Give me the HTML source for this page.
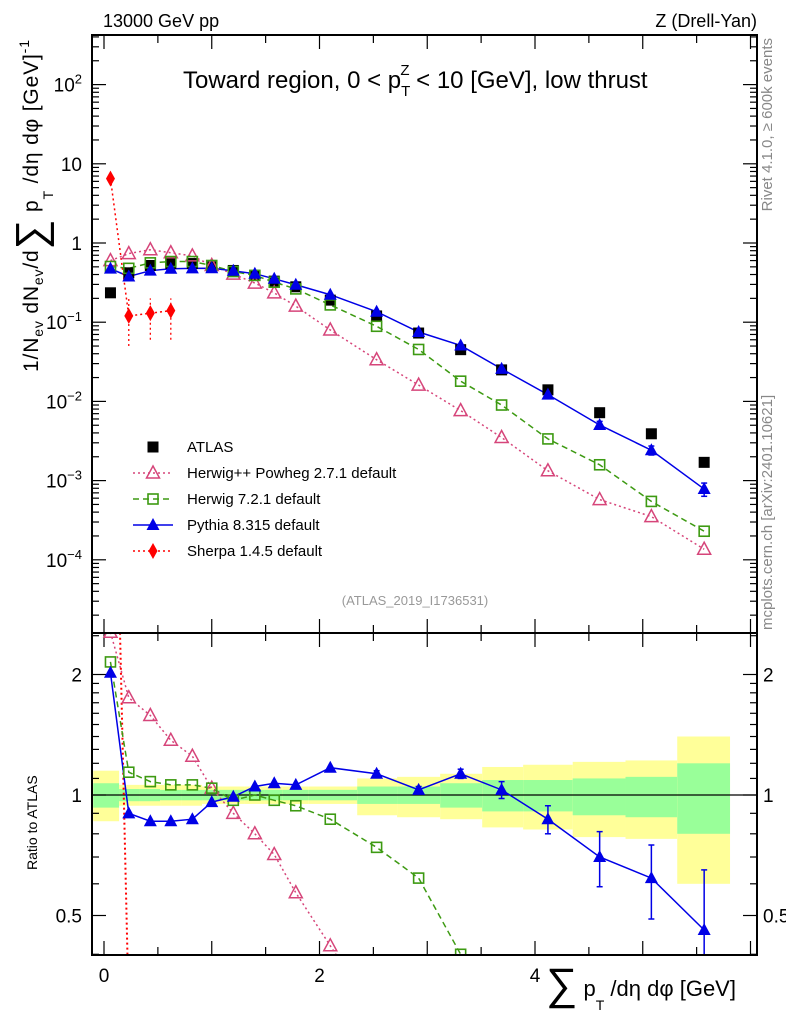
<!DOCTYPE html>
<html><head><meta charset="utf-8"><style>
html,body{margin:0;padding:0;background:#fff;overflow:hidden;}
svg{display:block;font-family:"Liberation Sans",sans-serif;}
</style></head><body>
<svg id="chart" width="786" height="1024" viewBox="0 0 786 1024" xmlns="http://www.w3.org/2000/svg">
<defs>
<clipPath id="clipMain"><rect x="92" y="35" width="665" height="598"/></clipPath>
<clipPath id="clipRatio"><rect x="92" y="634" width="665" height="321"/></clipPath>
</defs>
<g id="bands" clip-path="url(#clipRatio)"></g>
<g id="ticks"></g>
<g id="series-main" clip-path="url(#clipMain)"></g>
<g id="series-ratio" clip-path="url(#clipRatio)"></g>
<rect x="92" y="35" width="665" height="598" fill="none" stroke="#000" stroke-width="2"/>
<rect x="92" y="633" width="665" height="322" fill="none" stroke="#000" stroke-width="2"/>
<text x="103" y="27" font-size="18">13000 GeV pp</text>
<text x="757" y="27" font-size="18" text-anchor="end">Z (Drell-Yan)</text>
<text x="183" y="88" font-size="24">Toward region, 0 &lt; p<tspan font-size="15" dy="8">T</tspan><tspan font-size="15" dx="-10" dy="-21">Z</tspan><tspan dy="13"> &lt; 10 [GeV], low thrust</tspan></text>
<text transform="translate(772,38) rotate(-90)" font-size="15" fill="#888" text-anchor="end">Rivet 4.1.0, ≥ 600k events</text>
<text transform="translate(772,630) rotate(-90)" font-size="15" fill="#888">mcplots.cern.ch [arXiv:2401.10621]</text>
<text x="415" y="605" font-size="13" fill="#999" text-anchor="middle">(ATLAS_2019_I1736531)</text>
<text transform="translate(38,372) rotate(-90)" font-size="21" textLength="332" lengthAdjust="spacing">1/N<tspan font-size="14" dy="5">ev</tspan><tspan dy="-5"> dN</tspan><tspan font-size="14" dy="5">ev</tspan><tspan dy="-5">/d</tspan><tspan font-size="42" dy="7">∑</tspan><tspan dy="-7"> p</tspan><tspan font-size="14" dy="15">T</tspan><tspan dy="-15"> /dη dφ  [GeV]</tspan><tspan font-size="14" dy="-9">-1</tspan></text>
<text transform="translate(37,870) rotate(-90)" font-size="14">Ratio to ATLAS</text>
<text x="546" y="996" font-size="22"><tspan font-size="44" dy="3">∑</tspan><tspan dy="-3"> p</tspan><tspan font-size="14" dy="14">T</tspan><tspan dy="-14"> /dη dφ [GeV]</tspan></text>
<g id="legend"></g>
<g id="labels"></g>
</svg>
<script>
const xCenters=[0.06,0.23,0.43,0.62,0.82,1.0,1.2,1.4,1.58,1.78,2.1,2.53,2.92,3.31,3.69,4.12,4.6,5.08,5.57];
const binEdges=[-0.1,0.14,0.33,0.52,0.72,0.91,1.1,1.3,1.49,1.66,1.9,2.35,2.72,3.12,3.51,3.89,4.35,4.84,5.32,5.81];
const atlas=[0.235,0.42,0.52,0.55,0.55,0.5,0.45,0.39,0.33,0.28,0.19,0.12,0.073,0.045,0.025,0.014,0.0072,0.0039,0.0017];
const totHi=[1.15,1.06,1.06,1.06,1.06,1.05,1.05,1.05,1.05,1.05,1.05,1.10,1.11,1.13,1.175,1.19,1.21,1.22,1.40];
const totLo=[0.86,0.94,0.94,0.94,0.94,0.95,0.95,0.95,0.95,0.95,0.95,0.89,0.88,0.87,0.83,0.82,0.785,0.777,0.60];
const statHi=[1.07,1.035,1.035,1.03,1.03,1.03,1.03,1.03,1.03,1.03,1.03,1.05,1.05,1.07,1.09,1.09,1.10,1.11,1.20];
const statLo=[0.93,0.965,0.965,0.97,0.97,0.97,0.97,0.97,0.97,0.97,0.97,0.95,0.95,0.93,0.91,0.91,0.89,0.88,0.80];
const ratioHpp=[2.55,1.75,1.58,1.37,1.25,1.04,0.90,0.80,0.71,0.57,0.42,0.28,0.22,0.17,0.14,0.095,0.08,0.09,0.08];
const ratioH7=[2.15,1.14,1.08,1.06,1.06,1.04,0.97,1.0,0.97,0.94,0.87,0.74,0.62,0.40,0.36,0.24,0.22,0.14,0.135];
const ratioPy=[2.02,0.90,0.86,0.86,0.87,0.96,0.99,1.05,1.07,1.06,1.17,1.13,1.03,1.13,1.03,0.87,0.70,0.62,0.46];
const errPy=[0.01,0.01,0.01,0.01,0.01,0.01,0.01,0.01,0.01,0.01,0.01,0.02,0.02,0.03,0.05,0.07,0.11,0.13,0.19];
const sherpaX=[0.06,0.23,0.43,0.62];
const sherpaVal=[6.5,0.12,0.13,0.14];
const sherpaErrLo=[0.5,0.07,0.07,0.08];
const sherpaErrHi=[0.5,0.08,0.07,0.06];
const legendLabels=["ATLAS","Herwig++ Powheg 2.7.1 default","Herwig 7.2.1 default","Pythia 8.315 default","Sherpa 1.4.5 default"];

const NS="http://www.w3.org/2000/svg";
const X=v=>104+107.75*v;
const Y=v=>243-79.2*Math.log10(v);
const R=r=>795-120.5*Math.log2(r);
function mk(tag,attrs,parent){const e=document.createElementNS(NS,tag);for(const k in attrs)e.setAttribute(k,attrs[k]);parent.appendChild(e);return e;}
const gB=document.getElementById('bands'),gT=document.getElementById('ticks'),gM=document.getElementById('series-main'),gR=document.getElementById('series-ratio'),gL=document.getElementById('legend'),gLab=document.getElementById('labels');

for(let i=0;i<xCenters.length;i++){
  const x0=X(binEdges[i]),x1=X(binEdges[i+1]);
  const y=mk('rect',{x:x0,y:R(totHi[i]),width:x1-x0,height:R(totLo[i])-R(totHi[i]),fill:'#ffff99'},gB);
  
  
  const g=mk('rect',{x:x0,y:R(statHi[i]),width:x1-x0,height:R(statLo[i])-R(statHi[i]),fill:'#99ff99'},gB);
  
  
}
mk('line',{x1:92,x2:757,y1:R(1),y2:R(1),stroke:'#000','stroke-width':1.3},gB);

function tick(x1,y1,x2,y2){mk('line',{x1,y1,x2,y2,stroke:'#000','stroke-width':1.2},gT);}
for(let d=-5;d<=2;d++){for(let m=1;m<10;m++){const v=m*Math.pow(10,d);const y=Y(v);if(y<35||y>633)continue;const L=m==1?14:7;tick(92,y,92+L,y);tick(757,y,757-L,y);}}
const rt=[0.4,0.5,0.6,0.7,0.8,0.9,1,1.1,1.2,1.3,1.4,1.5,1.6,1.7,1.8,1.9,2,2.5];
rt.forEach(r=>{const y=R(r);if(y<634||y>955)return;const L=(r==0.5||r==1||r==2)?14:7;tick(92,y,92+L,y);tick(757,y,757-L,y);});
for(let v=0;v<=6;v+=0.5){const x=X(v);if(x>757)break;const L=(v%1==0)?14:8;tick(x,633,x,633-L);tick(x,35,x,35+L);tick(x,955,x,955-L);tick(x,633,x,633+L);}

function lab(t,x,y,anchor,size,name){const e=mk('text',{x,y,'text-anchor':anchor,'font-size':size},gLab);e.textContent=t;return e;}
const decades=[2,1,0,-1,-2,-3,-4];
decades.forEach(d=>{const y=Y(Math.pow(10,d))+7;
  if(d==1)lab('10',82,y,'end',19,'y-tick-label');
  else if(d==0)lab('1',82,y,'end',19,'y-tick-label');
  else{const e=lab('10',82,y,'end',19,'y-tick-label');const s=mk('tspan',{'font-size':13,dy:-8},e);s.textContent=(d<0?'−':'')+Math.abs(d);}
});
[[2,'2'],[1,'1'],[0.5,'0.5']].forEach(([r,t])=>{lab(t,82,R(r)+7,'end',19,'ratio-tick-label');lab(t,763,R(r)+7,'start',19,'ratio-tick-label-right');});
[0,2,4].forEach(v=>lab(String(v),X(v),982,'middle',19,'x-tick-label'));

const colHpp='#d6457a',colH7='#3d9a12',colPy='#0000e6',colSh='#ff0000';
function poly(pts,col,dash,g,name,w){const p=mk('polyline',{points:pts.map(p=>p.join(',')).join(' '),fill:'none',stroke:col,'stroke-width':w||1.5,'stroke-dasharray':dash},g);}
function marker(type,x,y,col,g,name){let e;
  if(type=='sq')e=mk('rect',{x:x-5.5,y:y-5.5,width:11,height:11,fill:col},g);
  else if(type=='osq')e=mk('rect',{x:x-5,y:y-5,width:10,height:10,fill:'#fff','fill-opacity':0,stroke:col,'stroke-width':1.6},g);
  else if(type=='tri')e=mk('polygon',{points:`${x},${y-7} ${x-6.5},${y+5} ${x+6.5},${y+5}`,fill:col},g);
  else if(type=='otri')e=mk('polygon',{points:`${x},${y-7} ${x-6.5},${y+5} ${x+6.5},${y+5}`,fill:'none',stroke:col,'stroke-width':1.5},g);
  else if(type=='dia')e=mk('polygon',{points:`${x},${y-8} ${x-4.5},${y} ${x},${y+8} ${x+4.5},${y}`,fill:col},g);
  }
function ebar(x,y1,y2,col,g){mk('line',{x1:x,x2:x,y1,y2,stroke:col,'stroke-width':1.5},g);mk('line',{x1:x-3,x2:x+3,y1,y2:y1,stroke:col,'stroke-width':1.5},g);mk('line',{x1:x-3,x2:x+3,y1:y2,y2,stroke:col,'stroke-width':1.5},g);}

const hppMain=ratioHpp.map((r,i)=>r*atlas[i]),h7Main=ratioH7.map((r,i)=>r*atlas[i]),pyMain=ratioPy.map((r,i)=>r*atlas[i]);
poly(xCenters.map((x,i)=>[X(x),Y(hppMain[i])]),colHpp,'2,3',gM,'herwigpp-line');
poly(xCenters.map((x,i)=>[X(x),Y(h7Main[i])]),colH7,'6,4',gM,'herwig7-line');
poly(xCenters.map((x,i)=>[X(x),Y(pyMain[i])]),colPy,'',gM,'pythia-line');
poly(sherpaX.map((x,i)=>[X(x),Y(sherpaVal[i])]),colSh,'2,3',gM,'sherpa-line');
sherpaX.forEach((x,i)=>{mk('line',{x1:X(x),x2:X(x),y1:Y(sherpaVal[i]-sherpaErrLo[i]),y2:Y(sherpaVal[i]+sherpaErrHi[i]),stroke:colSh,'stroke-width':1.3,'stroke-dasharray':'2,3'},gM);});
xCenters.forEach((x,i)=>{if(errPy[i]>0.04)ebar(X(x),Y(pyMain[i]*(1-errPy[i])),Y(pyMain[i]*(1+errPy[i])),colPy,gM);});
xCenters.forEach((x,i)=>marker('sq',X(x),Y(atlas[i]),'#000',gM,'atlas-point'));
xCenters.forEach((x,i)=>marker('otri',X(x),Y(hppMain[i]),colHpp,gM,'herwigpp-point'));
xCenters.forEach((x,i)=>marker('osq',X(x),Y(h7Main[i]),colH7,gM,'herwig7-point'));
xCenters.forEach((x,i)=>marker('tri',X(x),Y(pyMain[i]),colPy,gM,'pythia-point'));
sherpaX.forEach((x,i)=>marker('dia',X(x),Y(sherpaVal[i]),colSh,gM,'sherpa-point'));

const shRatio=sherpaVal.map((v,i)=>v/atlas[xCenters.indexOf(sherpaX[i])]);
poly(sherpaX.map((x,i)=>[X(x),R(shRatio[i])]),colSh,'2,3',gR,'sherpa-ratio-line',2);
poly(xCenters.map((x,i)=>[X(x),R(ratioHpp[i])]),colHpp,'2,3',gR,'herwigpp-ratio-line');
poly(xCenters.map((x,i)=>[X(x),R(ratioH7[i])]),colH7,'6,4',gR,'herwig7-ratio-line');
poly(xCenters.map((x,i)=>[X(x),R(ratioPy[i])]),colPy,'',gR,'pythia-ratio-line');
xCenters.forEach((x,i)=>{if(errPy[i]>0.015)ebar(X(x),R(ratioPy[i]-errPy[i]),R(ratioPy[i]+errPy[i]),colPy,gR);});
xCenters.forEach((x,i)=>marker('otri',X(x),R(ratioHpp[i]),colHpp,gR,'herwigpp-ratio-point'));
xCenters.forEach((x,i)=>marker('osq',X(x),R(ratioH7[i]),colH7,gR,'herwig7-ratio-point'));
xCenters.forEach((x,i)=>marker('tri',X(x),R(ratioPy[i]),colPy,gR,'pythia-ratio-point'));

const lx=153,ly0=447,dy=26;
const lt=[['sq','#000',''],['otri',colHpp,'2,3'],['osq',colH7,'6,4'],['tri',colPy,''],['dia',colSh,'2,3']];
legendLabels.forEach((t,i)=>{const y=ly0+i*dy;
  if(i>0){mk('line',{x1:lx-20,x2:lx+20,y1:y,y2:y,stroke:lt[i][1],'stroke-width':1.5,'stroke-dasharray':lt[i][2]},gL);}
  marker(lt[i][0],lx,y,lt[i][1],gL,'legend-marker');
  const e=mk('text',{x:187,y:y+5,'font-size':15},gL);e.textContent=t;
  
  
});
</script>
</body></html>
